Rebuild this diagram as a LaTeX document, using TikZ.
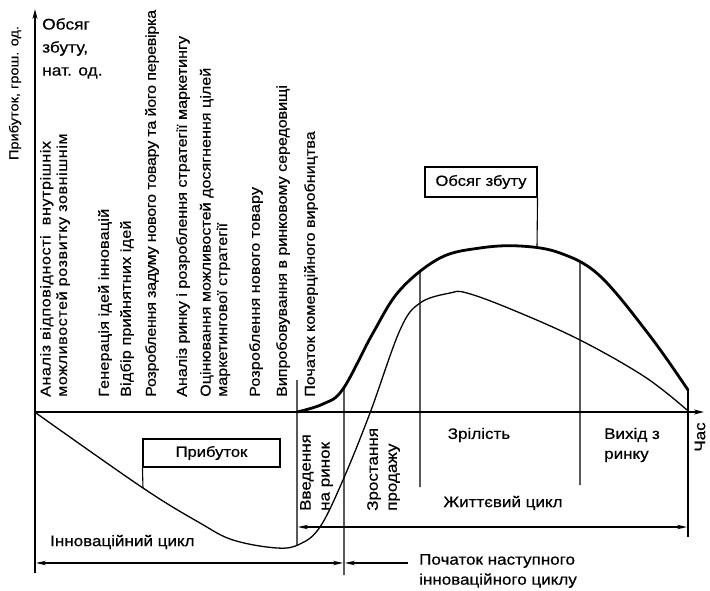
\documentclass[tikz,border=0pt]{standalone}
\usepackage{fontspec}
\setmainfont{Liberation Sans}[FakeStretch=1.12,FakeBold=0.5]
\usetikzlibrary{arrows.meta,intersections}

\begin{document}
\begin{tikzpicture}[x=1pt,y=-1pt,
  axis/.style={line width=1.6pt,-{Stealth[length=10pt,width=5pt]}},
  thickc/.style={line width=2.8pt,line cap=round},
  thinc/.style={line width=1.3pt,line cap=round},
  rule/.style={line width=1.1pt},
  dimarrow/.style={line width=1.1pt,{Stealth[length=10pt,width=4.5pt]}-{Stealth[length=10pt,width=4.5pt]}},
  onearrow/.style={line width=1.1pt,-{Stealth[length=10pt,width=4.5pt]}},
  vtext/.style={rotate=90,anchor=west,inner sep=0pt,align=left,font=\fontsize{14.4}{16.5}\selectfont},
  vlabel/.style={rotate=90,inner sep=0pt,align=left,font=\fontsize{15.2}{19}\selectfont},
  label/.style={inner sep=0pt,align=left,font=\fontsize{15.2}{20}\selectfont},
  tagbox/.style={draw,line width=1.1pt,inner sep=0pt,font=\fontsize{14.8}{18}\selectfont},
  spaced/.style={font=\fontsize{14.4}{16.5}\selectfont\addfontfeature{LetterSpace=#1}}
]
\useasboundingbox (0,0) rectangle (710,590);

% axes
\coordinate (O) at (35,412);
\draw[axis] (35,573) -- (35,9);
\draw[axis] (O) -- (704,412);

\node[vlabel,anchor=center,font=\fontsize{13}{16}\selectfont] (ylab) at (15,93) {Прибуток, грош. од.};
\node[label,anchor=north west,font=\fontsize{15.5}{23}\selectfont] (ylab2) at (42,18) {Обсяг\\збуту,\\нат. од.};
\node[vlabel,anchor=center] (xlab) at (700,437) {Час};

% stages of the innovation cycle
\node[vtext,spaced=4] (s1) at (55,397) {Аналіз відповідності\ \ внутрішніх\\можливостей розвитку зовнішнім};
\node[vtext,spaced=1.5] (s2) at (105,397) {Генерація ідей інновацій};
\node[vtext,spaced=1.5] (s3) at (127,397) {Відбір прийнятних ідей};
\node[vtext,spaced=-2] (s4) at (152,397) {Розроблення задуму нового товару та його перевірка};
\node[vtext] (s5) at (183,397) {Аналіз ринку і розроблення стратегії маркетингу};
\node[vtext] (s6) at (215,397) {Оцінювання можливостей досягнення цілей\\маркетингової стратегії};
\node[vtext,spaced=1] (s7) at (256,397) {Розроблення нового товару};
\node[vtext,spaced=-0.5] (s8) at (283,397) {Випробовування в ринковому середовищі};
\node[vtext] (s9) at (311,397) {Початок комерційного виробництва};

% sales volume (thick) and profit (thin)
\draw[thickc,name path=sales] plot[smooth,tension=0.6] coordinates {
  (297,412) (323,404) (343,389) (373,333) (400,290) (440,258)
  (480,248) (520,246) (560,253) (600,276) (650,336) (688,390)};
\draw[thinc,name path=profit] plot[smooth,tension=0.6] coordinates {
  (36,413) (143,488) (200,523) (233,540) (277,548) (300,544) (320,527)
  (343,480) (370,413) (400,330) (420,303) (450,293) (467,293)
  (513,310) (580,340) (645,377) (687,410)};

% phase boundaries
\path[name path=v344] (344,300) -- (344,600);
\path[name path=v420] (420,200) -- (420,600);
\path[name path=v580] (580,200) -- (580,600);
\path[name path=v537] (537,150) -- (537,400);
\path[name path=v143] (143,420) -- (143,560);
\path[name path=v297] (297,450) -- (297,600);
\path[name intersections={of=sales and v344,by=c344}];
\path[name intersections={of=sales and v420,by=c420}];
\path[name intersections={of=sales and v580,by=c580}];
\path[name intersections={of=sales and v537,by=c537}];
\path[name intersections={of=profit and v143,by=c143}];
\path[name intersections={of=profit and v297,by=c297}];

\coordinate (e297) at (297,380);
\coordinate (e344) at (344,575);
\coordinate (e420) at (420,487);
\coordinate (e580) at (580,485);
\coordinate (top688) at (688,390);
\coordinate (e688) at (688,537);

\draw[rule] (e297) -- (c297);
\draw[rule] (c344) -- (e344);
\draw[rule] (c420) -- (e420);
\draw[rule] (c580) -- (e580);
\draw[rule] (top688) -- (e688);

% labelled boxes
\node[tagbox,minimum width=112pt,minimum height=30pt] (salesbox) at (481,182) {Обсяг збуту};
\node[tagbox,minimum width=137pt,minimum height=28pt] (profitbox) at (211.5,453) {Прибуток};
\draw[rule] (salesbox.south east) -- (c537);
\draw[rule] (profitbox.south west) -- (c143);

% phase names
\node[vlabel,anchor=north west] (p1) at (300,511) {Введення\\на ринок};
\node[vlabel,anchor=north west] (p2) at (367,511) {Зростання\\продажу};
\node[label] (p3) at (479,435) {Зрілість};
\node[label,anchor=west] (p4) at (604,445) {Вихід з\\ринку};

% cycle spans
\coordinate (lcL) at (298,527);
\coordinate (lcR) at (687,527);
\draw[dimarrow] (lcL) -- (lcR);
\node[label] (lc) at (503,503) {Життєвий цикл};

\coordinate (icL) at (36,563);
\coordinate (icR) at (343,563);
\draw[dimarrow] (icL) -- (icR);
\node[label,anchor=west] (ic) at (50,542) {Інноваційний цикл};

\coordinate (ncL) at (345,563);
\coordinate (ncR) at (408,563);
\draw[onearrow] (ncR) -- (ncL);
\node[label,anchor=north west] (nc) at (419,554) {Початок наступного\\інноваційного циклу};
\end{tikzpicture}
\end{document}
